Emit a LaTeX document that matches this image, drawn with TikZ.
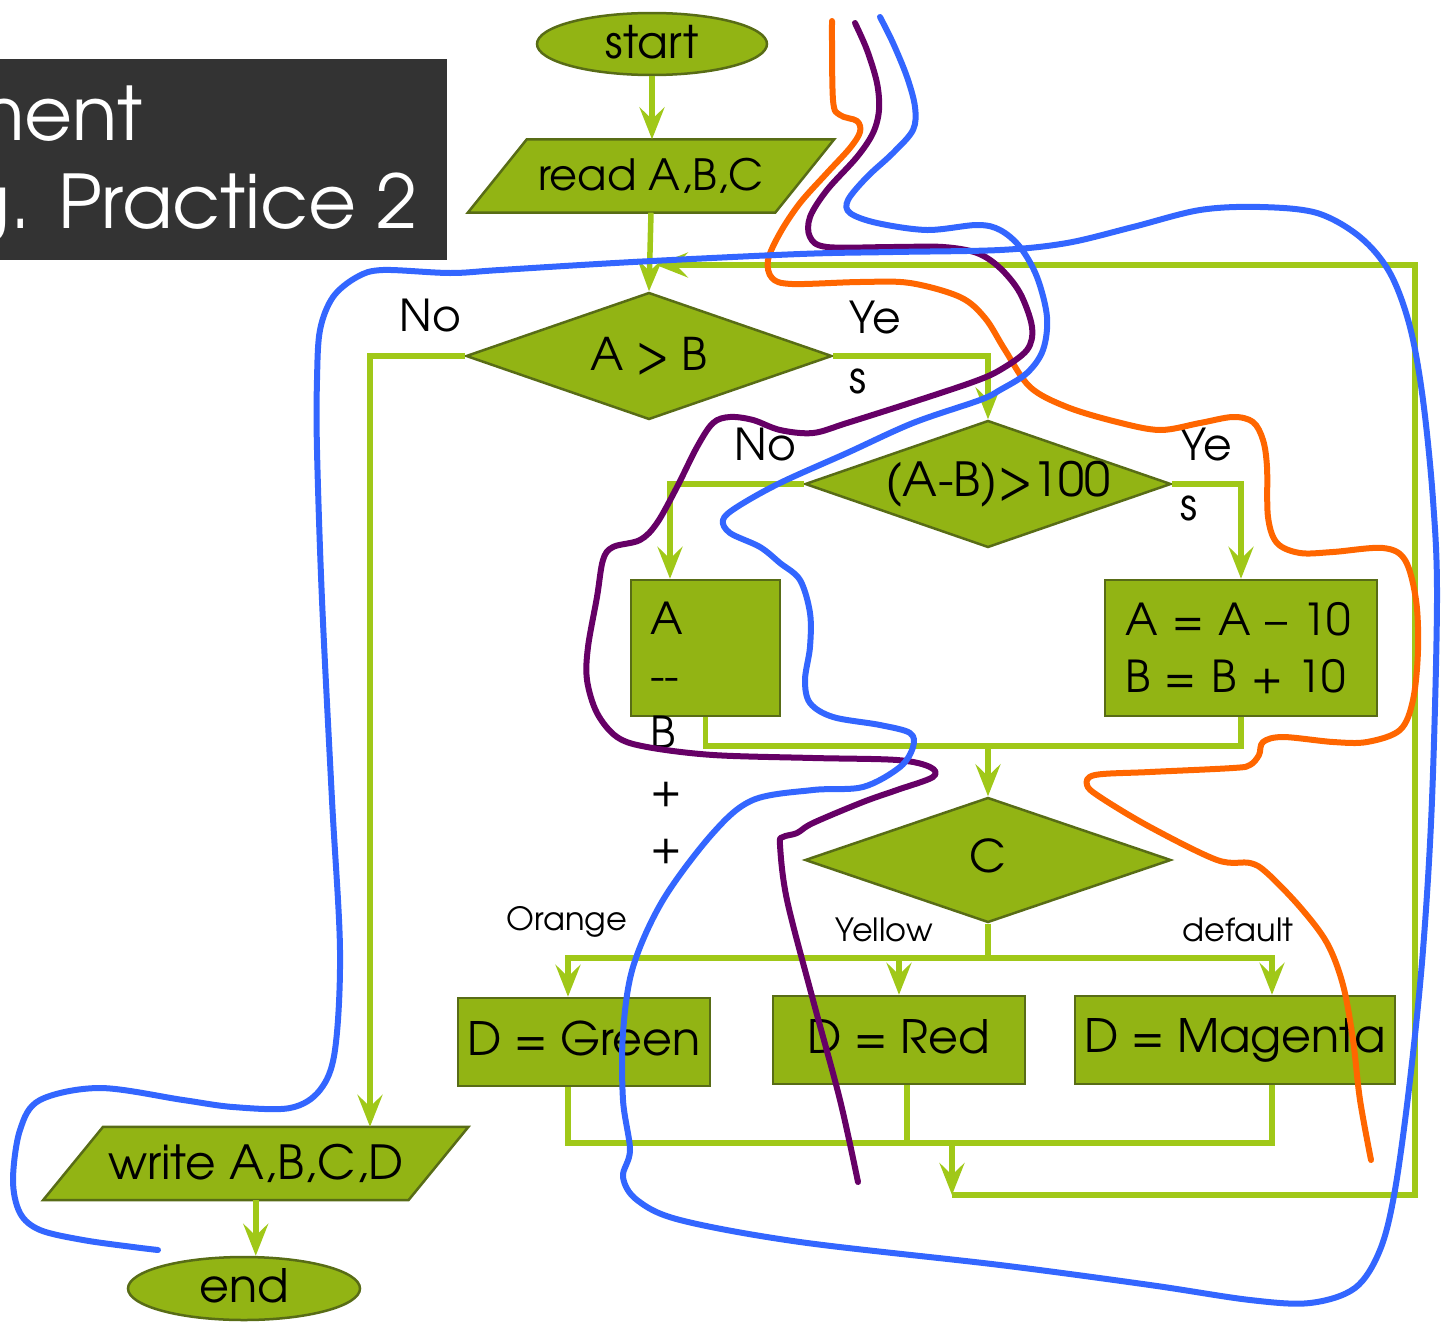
\documentclass[tikz,border=0pt]{standalone}
\usepackage{fontspec}
\setmainfont{texgyreadventor-regular.otf}
\usetikzlibrary{arrows.meta,shapes.geometric,backgrounds,calc}
\definecolor{boxfill}{RGB}{146,180,20}
\definecolor{boxline}{RGB}{88,108,22}
\definecolor{flowline}{RGB}{160,200,24}
\definecolor{titlebg}{RGB}{51,51,51}
\definecolor{penorange}{RGB}{255,102,0}
\definecolor{penpurple}{RGB}{102,0,102}
\definecolor{penblue}{RGB}{51,102,255}

\begin{document}
\begin{tikzpicture}[x=1pt,y=-1pt,
  shapebox/.style={fill=boxfill,draw=boxline,line width=2.5pt,inner sep=0pt},
  term/.style={shapebox,ellipse,minimum width=230pt,minimum height=62pt,font=\fontsize{45}{50}\selectfont},
  iotext/.style={inner sep=0pt,minimum height=73pt,font=\fontsize{43}{50}\selectfont},
  decide/.style={shapebox,diamond,aspect=2.9,minimum width=366pt,minimum height=127pt,font=\fontsize{45}{50}\selectfont},
  procbox/.style={shapebox,rectangle},
  flow/.style={draw=flowline,line width=5.5pt},
  arr/.style={flow,-{Stealth[length=32pt,width=25pt,inset=12pt]}},
  pen/.style={line width=6pt,line cap=round,line join=round},
  biglabel/.style={inner sep=0pt,font=\fontsize{44}{60}\selectfont},
  smalllabel/.style={inner sep=0pt,font=\fontsize{32}{36}\selectfont},
]
\useasboundingbox (0,0) rectangle (1441,1325);

% title banner
\begin{scope}
  \clip (0,59) rectangle (447,260);
  \fill[titlebg] (0,59) rectangle (447,260);
  \node[anchor=base east,text=white,inner sep=0pt,font=\fontsize{74}{80}\selectfont] (ttlA) at (143,140) {ment};
  \node[anchor=base east,text=white,inner sep=0pt,font=\fontsize{74}{80}\selectfont] (ttlB) at (418,228) {g. Practice 2};
\end{scope}

% flowchart shapes
\node[term] (start) at (652,44) {\raisebox{4pt}{start}};
\node[iotext,minimum width=307pt] (read) at (651,176) {read A,B,C};
\node[decide] (AB) at (649,356) {\raisebox{2pt}{A > B}};
\node[decide,font=\fontsize{47}{50}\selectfont] (D2) at (988,484) {\makebox[0pt]{\hspace*{20pt}\raisebox{5pt}{(A-B)>100}}};
\node[procbox,minimum width=149pt,minimum height=136pt] (boxA) at (705.5,648) {};
\node[anchor=north west,align=left,inner sep=0pt,font=\fontsize{44}{57}\selectfont] (boxAtext) at (650,602) {A\\-{}-\\B\\+\\+};
\node[procbox,minimum width=272pt,minimum height=136pt,text width=232pt,align=left,font=\fontsize{44}{57}\selectfont] (boxR) at (1241,648) {A = A – 10\\B = B + 10};
\node[decide,minimum height=125pt] (C) at (988,860) {\raisebox{8pt}{C}};
\node[procbox,minimum width=252pt,minimum height=88pt,font=\fontsize{46}{50}\selectfont] (green) at (584,1042) {\raisebox{7pt}{D = Green}};
\node[procbox,minimum width=252pt,minimum height=88pt,font=\fontsize{46}{50}\selectfont] (red) at (899,1040) {\raisebox{7pt}{D = Red}};
\node[procbox,minimum width=320pt,minimum height=88pt,font=\fontsize{46}{50}\selectfont] (mag) at (1235,1040) {\raisebox{7pt}{D = Magenta}};
\node[iotext,minimum width=365pt,font=\fontsize{47}{50}\selectfont] (write) at (255.75,1163.5) {\raisebox{3pt}{write A,B,C,D}};
\node[term,minimum width=232pt,minimum height=63pt,font=\fontsize{46}{50}\selectfont] (end) at (244,1288.5) {\raisebox{6pt}{end}};

% input / output parallelograms behind their labels
\begin{scope}[on background layer]
  \draw[shapebox] ([xshift=29.5pt]read.north west) -- ([xshift=29.5pt]read.north east)
    -- ([xshift=-29.5pt]read.south east) -- ([xshift=-29.5pt]read.south west) -- cycle;
  \draw[shapebox] ([xshift=30pt]write.north west) -- ([xshift=30pt]write.north east)
    -- ([xshift=-30pt]write.south east) -- ([xshift=-30pt]write.south west) -- cycle;
\end{scope}

% branch labels
\node[biglabel] (noA) at (430,316) {No};
\node[biglabel,anchor=north west,align=left] (yesA) at (849,301) {Ye\\s};
\node[biglabel] (noB) at (765,445) {No};
\node[biglabel,anchor=north west,align=left] (yesB) at (1180,428) {Ye\\s};
\node[smalllabel] (lblO) at (567,922) {Orange};
\node[smalllabel] (lblY) at (884,930) {Yellow};
\node[smalllabel] (lblD) at (1238,930) {default};

% junction points
\coordinate (noX) at (370,355);
\coordinate (join1) at (988,746);
\coordinate (split) at (988,958);
\coordinate (join2) at (952,1143);
\coordinate (loopS) at (952,1195);
\coordinate (loopX) at (1415,1195);
\coordinate (loopE) at (656,265);

% connectors
\draw[arr] (start.south) -- (start.south |- read.north);
\draw[arr] (read.south) -- (AB.north);
\draw[arr] (AB.west) -| (noX |- write.north);
\draw[arr] (AB.east) -| (D2.north);
\draw[arr] (D2.west) -| ([xshift=-35.5pt]boxA.north);
\draw[arr] (D2.east) -| (boxR.north);
\draw[flow] (boxA.south) |- (join1);
\draw[flow] (boxR.south) |- (join1);
\draw[arr] (join1) -- (C.north);
\draw[flow] (C.south) -- (split);
\draw[arr] (split) -| ([xshift=-16pt]green.north);
\draw[arr] (split) -| (red.north);
\draw[arr] (split) -| ([xshift=37pt]mag.north);
\draw[flow] ([xshift=-16pt]green.south) |- (join2);
\draw[flow] ([xshift=8pt]red.south) |- (join2);
\draw[flow] ([xshift=37pt]mag.south) |- (join2);
\draw[arr] (join2) -- (loopS);
\draw[arr] (loopS) -- (loopX) |- (loopE);
\draw[arr] (write.south) -- (write.south |- end.north);

% hand-drawn pen strokes
\draw[pen,penorange] plot[smooth,tension=0.55] coordinates {
 (832,21) (833,100) (840,115) (857,121) (860,132) (850,148) (827,173) (800,203)
 (780,233) (768,260) (772,278) (792,284) (860,282) (910,283) (960,297) (985,318)
 (1005,350) (1030,387) (1067,407) (1117,422) (1160,430) (1200,423) (1233,417)
 (1253,422) (1263,440) (1267,467) (1268,517) (1277,543) (1300,553) (1333,552)
 (1383,548) (1405,560) (1416,600) (1418,650) (1413,700) (1400,730) (1367,742)
 (1333,742) (1283,737) (1263,742) (1259,755) (1250,765) (1233,768) (1150,772)
 (1095,775) (1087,785) (1100,797) (1150,827) (1217,860) (1250,863) (1267,873)
 (1300,907) (1327,943) (1343,985) (1353,1040) (1360,1100) (1371,1160)};
\draw[pen,penpurple] plot[smooth,tension=0.55] coordinates {
 (855,23) (867,50) (877,83) (879,110) (873,133) (857,157) (827,190) (810,217)
 (810,237) (827,247) (893,247) (943,247) (977,253) (1000,268) (1020,293)
 (1032,327) (1027,350) (1000,370) (973,382) (913,402) (847,423) (813,433)
 (780,430) (753,420) (730,417) (713,423) (697,447) (677,487) (657,523)
 (640,540) (613,547) (603,560) (597,597) (588,647) (587,680) (597,713)
 (617,737) (647,747) (713,755) (813,758) (897,760) (930,767) (933,777)
 (897,790) (863,802) (813,823) (797,833) (783,837) (780,845) (787,900)
 (813,1000) (840,1100) (858,1182)};
\draw[pen,penblue] plot[smooth,tension=0.55] coordinates {
 (880,17) (893,43) (907,77) (915,107) (913,130) (893,153) (867,177) (848,200)
 (850,213) (877,223) (927,230) (977,225) (1000,230) (1020,247) (1037,277)
 (1047,317) (1043,350) (1027,373) (1000,390) (980,400) (913,423) (847,453)
 (780,483) (737,507) (723,520) (730,533) (760,547) (780,563) (800,580)
 (810,613) (810,647) (805,680) (810,703) (833,717) (880,725) (910,733)
 (913,747) (900,767) (863,787) (813,790) (753,800) (713,833) (663,900)
 (633,967) (623,1033) (623,1100) (630,1150) (623,1177) (637,1200) (680,1220)
 (800,1242) (1000,1265) (1150,1285) (1250,1300) (1310,1303) (1355,1288)
 (1380,1250) (1395,1190) (1410,1080) (1423,950) (1432,800) (1437,600)
 (1433,500) (1423,400) (1410,327) (1390,273) (1360,237) (1317,213) (1260,207)
 (1200,210) (1133,227) (1067,243) (1000,250) (893,252) (800,254) (633,262)
 (500,270) (450,273) (383,270) (357,277) (333,297) (320,330) (317,380)
 (317,450) (322,600) (332,800) (340,950) (335,1050) (320,1090) (290,1108)
 (233,1107) (183,1100) (100,1088) (40,1100) (20,1130) (13,1180) (20,1213)
 (40,1230) (83,1240) (133,1247) (158,1250)};
\end{tikzpicture}
\end{document}
